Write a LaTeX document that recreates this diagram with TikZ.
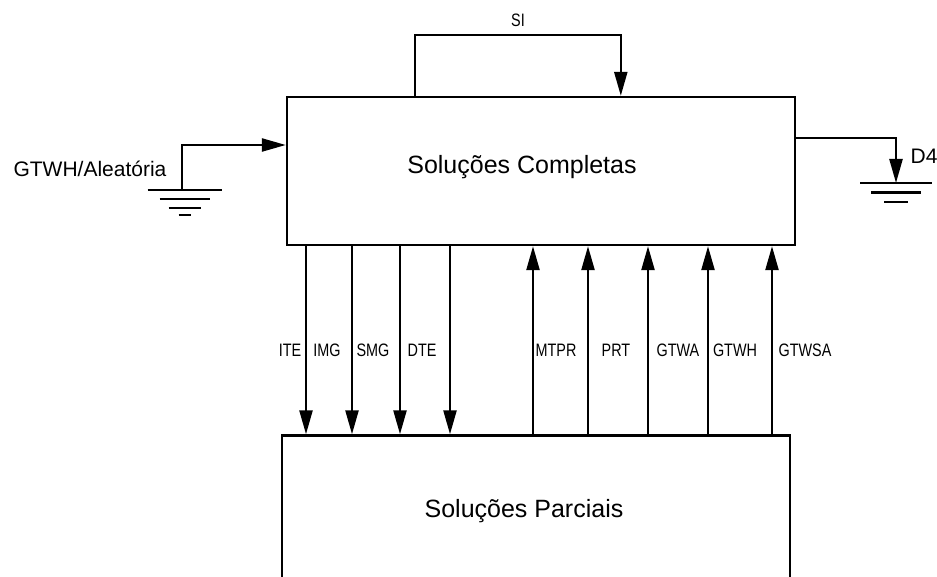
\documentclass[tikz,border=0pt]{standalone}
\usepackage{fontspec}
\setmainfont{Liberation Sans}
\newfontfamily\narrowsf[FakeStretch=0.8]{Liberation Sans}
\usetikzlibrary{arrows.meta,calc}
\tikzset{
  block/.style={rectangle,draw,line width=1.2pt,inner sep=0pt,minimum width=254pt},
  arrow/.style={-{Triangle[length=12pt,width=6.5pt]},line width=1.2pt},
  wire/.style={line width=1.2pt},
  flowlbl/.style={font=\narrowsf\fontsize{9}{11}\selectfont,inner sep=0pt},
  sidelbl/.style={font=\fontsize{10.5}{12}\selectfont,inner sep=0pt},
  title/.style={font=\fontsize{12.5}{15}\selectfont,inner sep=0pt},
  ground/.pic={\draw[wire] (-36,0) -- (36,0) (-25,9.5) -- (25,9.5) (-12,19) -- (12,19);},
  groundfour/.pic={\draw[wire] (-37,0) -- (37,0) (-25,9) -- (25,9) (-16,18) -- (16,18) (-6,25) -- (6,25);}
}

\begin{document}
\begin{tikzpicture}[x=0.5pt,y=-0.5pt]
  \clip (0,0) rectangle (937,577);

  \node[block,minimum height=74pt,
    label={[title,xshift=-9.5pt,yshift=2pt]center:Soluções Completas}] (completas) at (541,171) {};
  \node[block,minimum height=75.5pt,
    label={[title,xshift=-6pt]center:Soluções Parciais}] (parciais) at (536,511) {};

  % laco SI
  \coordinate (loopL) at ($(completas.north west)+(129,0)$);
  \coordinate (loopR) at ($(completas.north west)+(335,0)$);
  \draw[arrow] (loopL) -- ++(0,-61) -| (loopR);
  \node[flowlbl] (si) at (518,20) {SI};

  % entrada
  \pic at (184.5,190) {groundfour};
  \coordinate (gndL) at (182,190);
  \draw[arrow] (gndL) |- (completas.west |- 0,145);
  \node[sidelbl] (inlbl) at (90,169) {GTWH/Aleatória};

  % saida
  \pic at (896,183) {ground};
  \coordinate (gndR) at (896,183);
  \draw[arrow] (completas.east |- 0,138) -| (gndR);
  \node[sidelbl] (outlbl) at (924,156) {D4};

  \foreach \x/\lx/\t in {306/290/ITE,352/327/IMG,400/373/SMG,450/422/DTE}{
    \draw[arrow] (completas.south -| \x,0) -- (parciais.north -| \x,0);
    \node[flowlbl] (lbl\t) at (\lx,350) {\t};
  }
  \foreach \x/\lx/\t in {533/556/MTPR,588/616/PRT,648/678/GTWA,708/735/GTWH,772/805/GTWSA}{
    \draw[arrow] (parciais.north -| \x,0) -- (completas.south -| \x,0);
    \node[flowlbl] (lbl\t) at (\lx,350) {\t};
  }
\end{tikzpicture}
\end{document}
